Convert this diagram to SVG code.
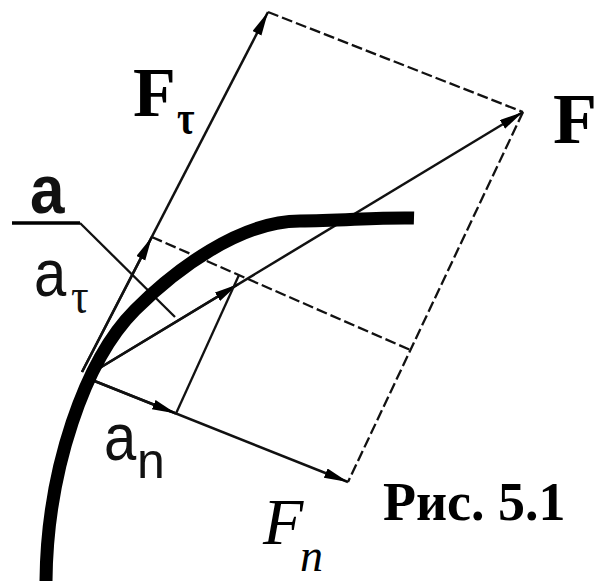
<svg xmlns="http://www.w3.org/2000/svg" width="598" height="581" viewBox="0 0 598 581">
  <style>
    .vec { fill: none; stroke: #111; stroke-width: 2.5; }
    .dash { fill: none; stroke: #111; stroke-width: 2.3; stroke-dasharray: 11 4; }
    .thin { fill: none; stroke: #111; stroke-width: 2.3; }
    .curve { fill: none; stroke: #000; stroke-width: 13; stroke-linecap: butt; }
    .bf { font-family: "Liberation Serif", "Times New Roman", serif; font-weight: bold; fill: #000; }
    .rs { font-family: "Liberation Serif", "Times New Roman", serif; fill: #111; }
    .it { font-family: "Liberation Serif", "Times New Roman", serif; font-style: italic; fill: #000; }
    .sa { font-family: "Liberation Sans", Arial, sans-serif; fill: #111; }
  </style>
  <defs>
    <marker id="arr" markerUnits="userSpaceOnUse" markerWidth="26" markerHeight="12" refX="24" refY="5" orient="auto">
      <path d="M0,0 L24,5 L0,10 Z" fill="#000"/>
    </marker>
  </defs>

  <rect width="598" height="581" fill="#fff"/>

  <g id="connectors">
    <!-- force parallelogram -->
    <path id="F_tau" class="vec" d="M82,372 L268,12" marker-end="url(#arr)"/>
    <path id="F" class="vec" d="M93,372 L523,112" marker-end="url(#arr)"/>
    <path id="F_n" class="vec" d="M92,380 L348,482" marker-end="url(#arr)"/>
    <path class="dash" d="M268,12 L523,112"/>
    <path class="dash" d="M523,112 L348,482"/>
    <!-- acceleration parallelogram -->
    <path id="a_tau" class="vec" d="M82,372 L151.8,237" marker-end="url(#arr)"/>
    <path id="a_n" class="vec" d="M92,380 L176,413.5" marker-end="url(#arr)"/>
    <path id="a" class="vec" d="M93,372 L238,284.3" marker-end="url(#arr)"/>
    <path class="dash" d="M151.8,237 L410.4,350"/>
    <path class="thin" d="M176,413.5 L239,275"/>
    <!-- leader for label a -->
    <path d="M12,223 L80,223" fill="none" stroke="#000" stroke-width="3.5"/>
    <path class="thin" d="M80,223 L175,317"/>
  </g>

  <g id="trajectory">
    <path class="curve" d="M46,581 C47,470 85,360 135,310 C175,270 240,221 300,221 C340,221 380,217 414,218"/>
  </g>

  <g id="labels">
    <g id="label-F-tau">
      <text class="bf" x="133" y="116" font-size="70">F</text>
      <text class="bf" transform="translate(177,134) scale(1,1.3)" font-size="38">τ</text>
    </g>
    <g id="label-F">
      <text class="bf" x="553" y="143" font-size="72">F</text>
    </g>
    <g id="label-a">
      <text class="sa" font-weight="bold" transform="translate(30,213) scale(1,1.1)" font-size="62">a</text>
    </g>
    <g id="label-a-tau">
      <text class="sa" transform="translate(34,296) scale(1,1.15)" font-size="58">a</text>
      <text class="rs" transform="translate(71,313) scale(1,1.15)" font-size="44">τ</text>
    </g>
    <g id="label-a-n">
      <text class="sa" transform="translate(104,460) scale(1,1.15)" font-size="58">a</text>
      <text class="sa" x="137" y="478" font-size="50">n</text>
    </g>
    <g id="label-F-n">
      <text class="it" x="263" y="544" font-size="66">F</text>
      <text class="it" x="300" y="571" font-size="46">n</text>
    </g>
    <g id="caption">
      <text class="bf" x="383" y="520" font-size="54">Рис. 5.1</text>
    </g>
  </g>
</svg>
